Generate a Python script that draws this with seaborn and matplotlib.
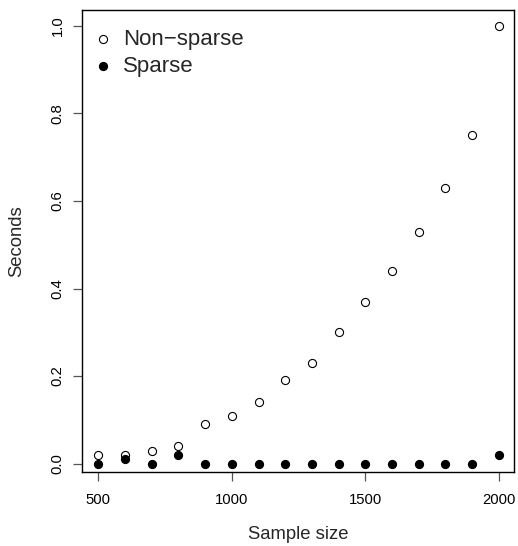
import pandas as pd
import seaborn as sns
import matplotlib.pyplot as plt

# timings
sample_size = [500, 600, 700, 800, 900, 1000, 1100, 1200, 1300, 1400,
               1500, 1600, 1700, 1800, 1900, 2000]
non_sparse = [0.02, 0.02, 0.03, 0.04, 0.09, 0.11, 0.14, 0.19, 0.23, 0.30,
              0.37, 0.44, 0.53, 0.63, 0.75, 1.00]
sparse = [0.00, 0.01, 0.00, 0.02, 0.00, 0.00, 0.00, 0.00, 0.00, 0.00,
          0.00, 0.00, 0.00, 0.00, 0.00, 0.02]
x_ticks = [500, 1000, 1500, 2000]
y_ticks = [0.0, 0.2, 0.4, 0.6, 0.8, 1.0]

df = pd.DataFrame({'size': sample_size, 'Non-sparse': non_sparse, 'Sparse': sparse})

sns.set_style("ticks")
plt.rcParams['font.family'] = ['Liberation Sans', 'DejaVu Sans']

fig = plt.figure(figsize=(5.18, 5.46), dpi=100)
ax = fig.add_axes([0.1589, 0.1355, 0.9923 - 0.1589, 0.9817 - 0.1355])

sns.scatterplot(data=df, x='size', y='Non-sparse', ax=ax, marker='o', s=34,
                facecolors='white', edgecolor='black', linewidth=0.8,
                label='Non\u2212sparse', zorder=3)
sns.scatterplot(data=df, x='size', y='Sparse', ax=ax, marker='o', s=34,
                color='black', edgecolor='black', linewidth=0.8,
                label='Sparse', zorder=3)

ax.set_xlim(440, 2057)
ax.set_ylim(-0.019, 1.036)
ax.set_xticks(x_ticks)
ax.set_yticks(y_ticks)
ax.set_xticklabels([str(v) for v in x_ticks])
ax.set_yticklabels([f"{v:.1f}" for v in y_ticks], rotation=90, va='center')

for side in ['top', 'right', 'bottom', 'left']:
    ax.spines[side].set_visible(True)
    ax.spines[side].set_color('black')
    ax.spines[side].set_linewidth(1.0)

ax.tick_params(axis='both', direction='out', length=6.8, width=0.9,
               color='#555555', labelsize=10.7, labelcolor='black')
ax.tick_params(axis='x', pad=8)
ax.tick_params(axis='y', pad=6)

ax.set_xlabel('Sample size', fontsize=13.3)
ax.set_ylabel('Seconds', fontsize=13.3)
ax.xaxis.set_label_coords(0.5, -0.116)
ax.yaxis.set_label_coords(-0.133, 0.5)

leg = ax.legend(loc='upper left', bbox_to_anchor=(0.006, 0.985), frameon=False,
                fontsize=16, handletextpad=0.65, borderaxespad=0.15,
                labelspacing=0.27, handlelength=0.5, markerscale=1.0)

plt.savefig('out.png', dpi=100)
